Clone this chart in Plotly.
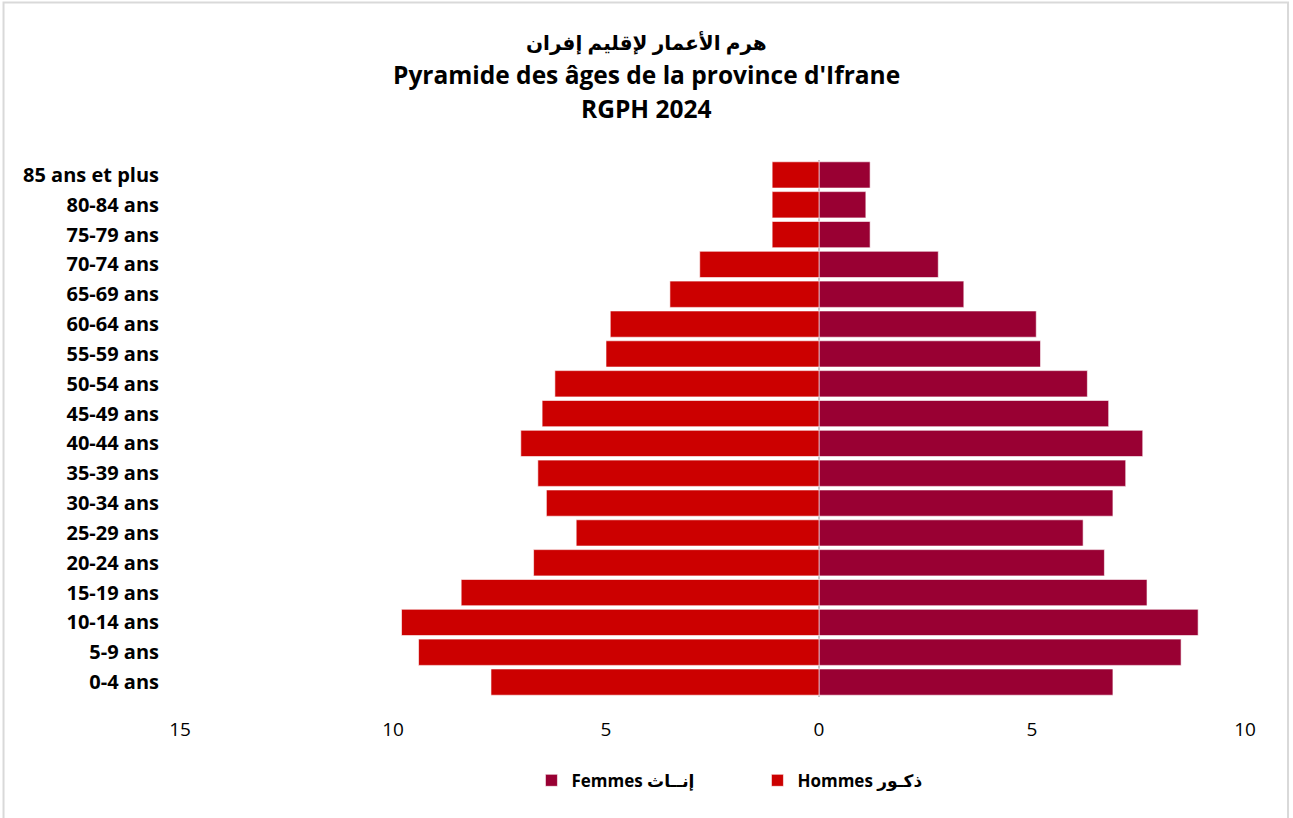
import plotly.graph_objects as go

categories = ["0-4 ans", "5-9 ans", "10-14 ans", "15-19 ans", "20-24 ans", "25-29 ans",
              "30-34 ans", "35-39 ans", "40-44 ans", "45-49 ans", "50-54 ans", "55-59 ans",
              "60-64 ans", "65-69 ans", "70-74 ans", "75-79 ans", "80-84 ans", "85 ans et plus"]
hommes = [7.7, 9.4, 9.8, 8.4, 6.7, 5.7, 6.4, 6.6, 7.0, 6.5, 6.2, 5.0, 4.9, 3.5, 2.8, 1.1, 1.1, 1.1]
femmes = [6.9, 8.5, 8.9, 7.7, 6.7, 6.2, 6.9, 7.2, 7.6, 6.8, 6.3, 5.2, 5.1, 3.4, 2.8, 1.2, 1.1, 1.2]
tick_vals = [-15, -10, -5, 0, 5, 10]
tick_text = ["15", "10", "5", "0", "5", "10"]

title_lines = ["هرم الأعمار لإقليم إفران", "Pyramide des âges de la province d'Ifrane", "RGPH 2024"]
title_sizes = [20, 24.5, 24.5]
name_f = "Femmes إنــاث"
name_h = "Hommes ذكـور"

FONT = "'Open Sans', 'DejaVu Sans', sans-serif"

fig = go.Figure()
fig.add_trace(go.Bar(
    y=categories, x=femmes, orientation="h", name=name_f,
    marker=dict(color="#990033", line=dict(color="rgba(255,255,255,0.6)", width=1)),
))
fig.add_trace(go.Bar(
    y=categories, x=[-v for v in hommes], orientation="h", name=name_h,
    marker=dict(color="#CC0000", line=dict(color="rgba(255,255,255,0.6)", width=1)),
))

fig.update_layout(
    width=1293, height=818,
    paper_bgcolor="white", plot_bgcolor="white",
    barmode="overlay", bargap=0.12,
    margin=dict(l=180, r=48, t=160, b=121),
    font=dict(family=FONT, color="black"),
    xaxis=dict(range=[-15, 10], tickvals=tick_vals, ticktext=tick_text, showgrid=False,
               zeroline=True, zerolinecolor="#c8c8c8", zerolinewidth=2,
               showline=False, ticks="", ticklabelstandoff=19,
               tickfont=dict(family=FONT, size=19, color="black")),
    yaxis=dict(showgrid=False, showline=False, ticks="", ticklabelstandoff=20,
               categoryorder="array", categoryarray=categories,
               tickfont=dict(family=FONT, size=20, color="black", weight="bold")),
    legend=dict(orientation="h", x=0.33, xanchor="left", y=-0.156, yanchor="middle",
                traceorder="normal", font=dict(family=FONT, size=17, color="black", weight="bold"),
                entrywidth=181, entrywidthmode="pixels"),
    showlegend=True,
)

title_y = [1.2197, 1.1583, 1.0968]
for line, yy, sz in zip(title_lines, title_y, title_sizes):
    fig.add_annotation(text=line, xref="paper", yref="paper", x=0.438, y=yy,
                       xanchor="center", yanchor="middle", showarrow=False,
                       font=dict(family=FONT, size=sz, color="black", weight="bold"))

fig.add_shape(type="rect", xref="paper", yref="paper",
              x0=-0.1657, x1=1.0404, y0=-0.25, y1=1.2933,
              line=dict(color="#d9d9d9", width=2), fillcolor="rgba(0,0,0,0)", layer="below")

fig.write_html("out.html", config={"displayModeBar": False},
               post_script="document.body.style.margin='0';")
